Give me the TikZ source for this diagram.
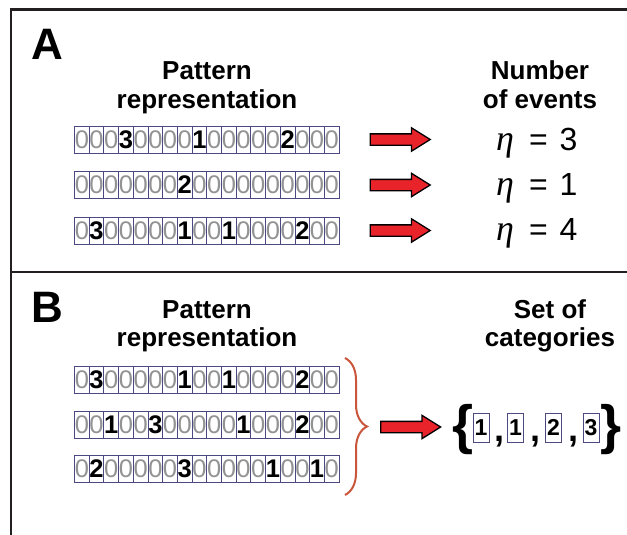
\documentclass[tikz,border=0pt]{standalone}
\usepackage{fontspec}
\setmainfont{Liberation Sans}
\newfontfamily\greekserif{Liberation Serif}
\usetikzlibrary{arrows.meta,positioning,shapes.arrows,decorations.pathreplacing}
\definecolor{framegray}{HTML}{231F20}
\definecolor{cellblue}{HTML}{4C4882}
\definecolor{zerogray}{HTML}{939393}
\definecolor{arrowred}{HTML}{E8232A}
\definecolor{braceorange}{HTML}{C9553B}
\tikzset{
  frame/.style={framegray,line width=2.6pt},
  cell/.style={draw=cellblue,line width=0.9pt,fill=white,minimum width=14.7pt,minimum height=27pt,inner sep=0pt},
  zero/.style={text=zerogray,font=\fontsize{25.5}{25.5}\selectfont},
  hit/.style={text=black,font=\fontsize{25.5}{25.5}\selectfont\bfseries},
  redarrow/.style={single arrow,draw=black,fill=arrowred,line width=1.3pt,minimum height=60pt,
    single arrow head extend=6pt,single arrow tip angle=64,inner sep=5pt},
  heading/.style={anchor=base,font=\fontsize{26}{26}\selectfont\bfseries},
  panel/.style={anchor=base west,inner sep=0pt,font=\fontsize{44}{44}\selectfont\bfseries},
  eta/.style={anchor=base west,inner sep=0pt,font=\fontsize{32}{32}\selectfont},
  curly/.style={inner sep=0pt,font=\fontsize{54}{54}\selectfont\bfseries},
}
\newcommand\patternrow[3]{%
  \foreach \d [count=\i] in {#3}{%
    \ifnum\d=0
      \node[cell,zero] (#1-\i) at (67.15+14.7*\i,#2) {\d};
    \else
      \node[cell,hit] (#1-\i) at (67.15+14.7*\i,#2) {\d};
    \fi
  }}
\newcommand\etaeq[1]{{\greekserif\itshape\fontsize{36}{36}\selectfont η}\hspace{15pt}=\hspace{12pt}#1}

\begin{document}
\begin{tikzpicture}[x=1pt,y=-1pt]
\useasboundingbox (0,0) rectangle (627,535);
\draw[frame] (11,535) -- (11,9.5) -- (627,9.5);
\draw[frame] (11,272) -- (627,272);

\node[panel] (labA) at (31,60) {A};
\node[panel] (labB) at (31,322) {B};
\node[heading] (patA1) at (207,80) {Pattern};
\node[heading] (patA2) at (207,108) {representation};
\node[heading] (numA1) at (540,80) {Number};
\node[heading] (numA2) at (540,108) {of events};
\node[heading] (patB1) at (207,318) {Pattern};
\node[heading] (patB2) at (207,346) {representation};
\node[heading] (setB1) at (550,318) {Set of};
\node[heading] (setB2) at (550,346) {categories};

\patternrow{a1}{139.5}{0,0,0,3,0,0,0,0,1,0,0,0,0,0,2,0,0,0}
\patternrow{a2}{185}{0,0,0,0,0,0,0,2,0,0,0,0,0,0,0,0,0,0}
\patternrow{a3}{230.5}{0,3,0,0,0,0,0,1,0,0,1,0,0,0,0,2,0,0}
\patternrow{b1}{380}{0,3,0,0,0,0,0,1,0,0,1,0,0,0,0,2,0,0}
\patternrow{b2}{424.5}{0,0,1,0,0,3,0,0,0,0,0,1,0,0,0,2,0,0}
\patternrow{b3}{469}{0,2,0,0,0,0,0,3,0,0,0,0,0,1,0,0,1,0}

\node[redarrow,right=30pt of a1-18] (arrA1) {};
\node[redarrow,right=30pt of a2-18] (arrA2) {};
\node[redarrow,right=30pt of a3-18] (arrA3) {};
\node[eta] (etaA1) at (496,150) {\etaeq{3}};
\node[eta] (etaA2) at (496,195) {\etaeq{1}};
\node[eta] (etaA3) at (496,240) {\etaeq{4}};

\draw[braceorange,line width=2pt,decorate,decoration={brace,amplitude=22pt}] (345,358) -- (345,495);
\node[redarrow,anchor=west] (arrB) at (380,427) {};
\node[curly] (lbrace) at (463.5,430) {\{};
\node[curly] (rbrace) at (611.5,430) {\}};
\foreach \d/\x [count=\k] in {1/481,1/515.5,2/553.5,3/591}
  \node[cell,hit,minimum width=16pt,minimum height=29pt,font=\fontsize{23}{23}\selectfont\bfseries] (cat\k) at (\x,427.5) {\d};
\foreach \x [count=\k] in {499.5,535,573}
  \node[inner sep=0pt,anchor=base,font=\fontsize{36}{36}\selectfont\bfseries] (comma\k) at (\x,441) {,};
\end{tikzpicture}
\end{document}
